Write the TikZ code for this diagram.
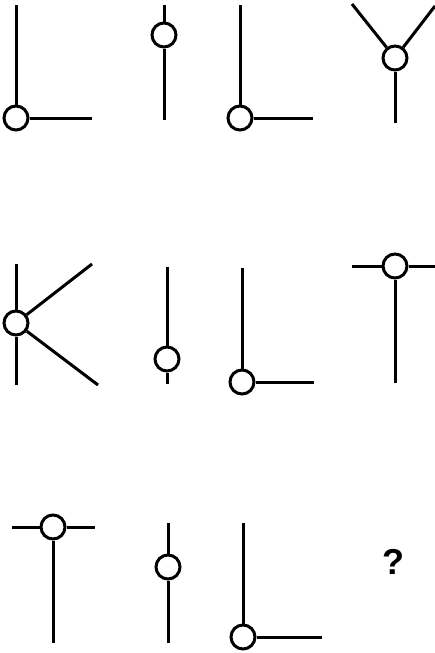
\documentclass[tikz,border=0pt]{standalone}
\usepackage{fontspec}
\setmainfont{Liberation Sans}
\begin{document}
\begin{tikzpicture}[x=1pt, y=-1pt, line width=3pt, joint/.style = {draw, circle, fill=white, minimum size=24pt, inner sep=0pt},
                        query/.style = {font=\fontsize{36}{40}\selectfont\bfseries, inner sep=0pt}]
        \useasboundingbox (0,0) rectangle (435,653);

        \node[joint] (j1) at (16, 118) {}; \coordinate (j1t) at (16, 5); \coordinate (j1r) at (92, 118);
        \node[joint] (j2) at (164, 35) {}; \coordinate (j2t) at (164, 5); \coordinate (j2b) at (164, 120);
        \node[joint] (j3) at (240, 118) {}; \coordinate (j3t) at (240, 5); \coordinate (j3r) at (313, 118);
        \node[joint] (j4) at (395, 58) {}; \coordinate (j4l) at (352, 4); \coordinate (j4r) at (435, 6); \coordinate (j4b) at (395, 123);

        \node[joint] (j5) at (16, 323) {}; \coordinate (j5t) at (16, 264); \coordinate (j5b) at (16, 385);
        \coordinate (j5u) at (92, 264); \coordinate (j5d) at (98, 385);
        \node[joint] (j6) at (167, 359) {}; \coordinate (j6t) at (167, 267); \coordinate (j6b) at (167, 384);
        \node[joint] (j7) at (242, 382) {}; \coordinate (j7t) at (242, 268); \coordinate (j7r) at (314, 382);
        \node[joint] (j8) at (395, 266) {}; \coordinate (j8l) at (352, 266); \coordinate (j8r) at (435, 266); \coordinate (j8b) at (395, 383);

        \node[joint] (j9) at (53, 527) {}; \coordinate (j9l) at (12, 527); \coordinate (j9r) at (95, 527); \coordinate (j9b) at (53, 643);
        \node[joint] (j10) at (168, 567) {}; \coordinate (j10t) at (168, 523); \coordinate (j10b) at (168, 643);
        \node[joint] (j11) at (243, 637) {}; \coordinate (j11t) at (243, 523); \coordinate (j11r) at (322, 637);
        \node[query] (q) at (393, 562) {?};

        \draw (j1t) -- (j1); \draw (j1) -- (j1r);
        \draw (j2t) -- (j2); \draw (j2) -- (j2b);
        \draw (j3t) -- (j3); \draw (j3) -- (j3r);
        \draw (j4l) -- (j4); \draw (j4r) -- (j4); \draw (j4) -- (j4b);

        \draw (j5t) -- (j5); \draw (j5) -- (j5b); \draw (j5) -- (j5u); \draw (j5) -- (j5d);
        \draw (j6t) -- (j6); \draw (j6) -- (j6b);
        \draw (j7t) -- (j7); \draw (j7) -- (j7r);
        \draw (j8l) -- (j8); \draw (j8) -- (j8r); \draw (j8) -- (j8b);

        \draw (j9l) -- (j9); \draw (j9) -- (j9r); \draw (j9) -- (j9b);
        \draw (j10t) -- (j10); \draw (j10) -- (j10b);
        \draw (j11t) -- (j11); \draw (j11) -- (j11r);
    \end{tikzpicture}
\end{document}
